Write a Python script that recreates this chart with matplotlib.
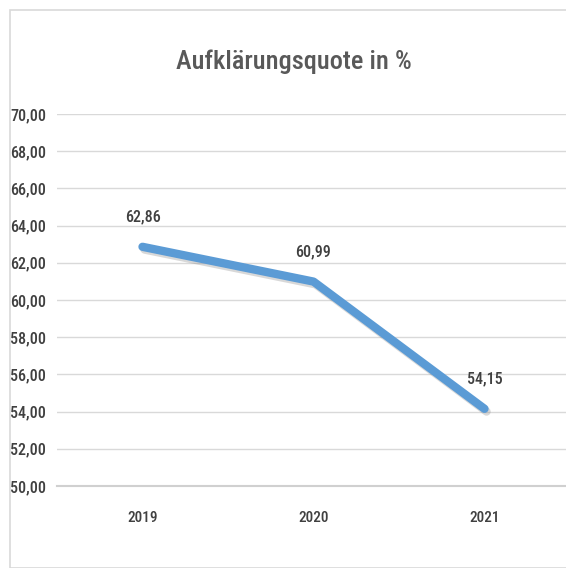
import matplotlib.pyplot as plt
import matplotlib.patheffects as pe
from matplotlib.patches import Rectangle

years = ["2019", "2020", "2021"]
quote = [62.86, 60.99, 54.15]
y_ticks = [50, 52, 54, 56, 58, 60, 62, 64, 66, 68, 70]

plt.rcParams['font.family'] = ['Roboto Condensed', 'Open Sans Condensed', 'Roboto', 'DejaVu Sans']

fig = plt.figure(figsize=(5.66, 5.68), dpi=100)
fig.patches.append(Rectangle((10 / 566, 0), 1, 1 - 10 / 568, transform=fig.transFigure,
                             fill=False, edgecolor='#d9d9d9', linewidth=1.2))

ax = fig.add_axes([57 / 566, 1 - 486 / 568, 513 / 566, 372 / 568])
x = range(len(years))
ax.plot(x, quote, color='#5b9bd5', linewidth=6, solid_capstyle='round',
        path_effects=[pe.SimpleLineShadow(offset=(1.5, -2), shadow_color='gray', alpha=0.3),
                      pe.Normal()], zorder=3)

for i, v in enumerate(quote):
    ax.annotate(f"{v:.2f}".replace(".", ","), (i, v), xytext=(0, 16), textcoords='offset points',
                ha='center', va='bottom', fontsize=11.5, color='#404040', fontweight='medium')

ax.set_xlim(-0.5, 2.5)
ax.set_ylim(50, 70)
ax.set_xticks(list(x))
ax.set_xticklabels(years)
ax.set_yticks(y_ticks)
ax.set_yticklabels([f"{t:.2f}".replace(".", ",") for t in y_ticks])
ax.tick_params(axis='both', length=0, labelsize=11, labelcolor='#404040')
ax.tick_params(axis='y', labelsize=11.5)
for lab in ax.get_xticklabels() + ax.get_yticklabels():
    lab.set_fontweight('medium')
ax.tick_params(axis='y', pad=8)
ax.tick_params(axis='x', pad=18)
ax.grid(axis='y', color='#d9d9d9', linewidth=1)
ax.set_axisbelow(True)
for s in ['top', 'right', 'left']:
    ax.spines[s].set_visible(False)
ax.spines['bottom'].set_color('#d0d0d0')
ax.spines['bottom'].set_linewidth(1.5)

fig.text(0.52, 1 - 62 / 568, "Aufklärungsquote in %", ha='center', va='center',
         fontsize=19, color='#595959', fontweight='medium')

fig.savefig("out.png", dpi=100)
